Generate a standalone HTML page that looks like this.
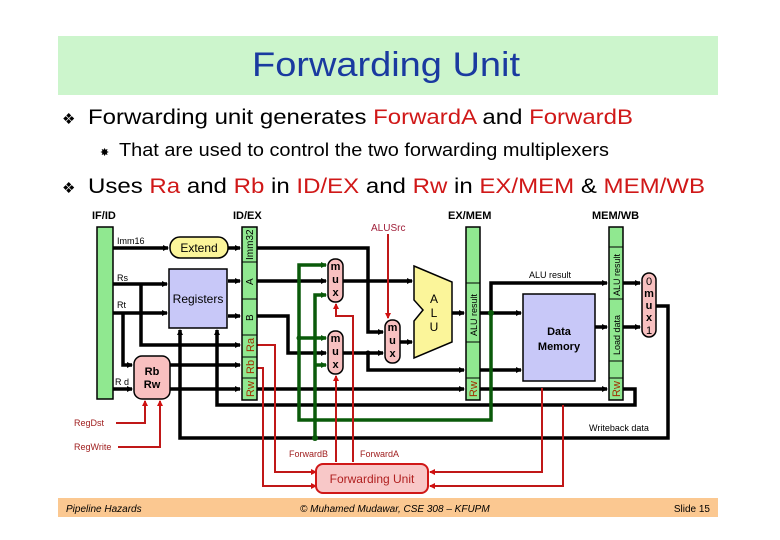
<!DOCTYPE html>
<html><head><meta charset="utf-8"><style>
body{margin:0;background:#fff;}
svg{display:block;}
text{font-family:"Liberation Sans",sans-serif;}
</style></head><body>
<svg width="780" height="540" viewBox="0 0 780 540" xmlns="http://www.w3.org/2000/svg">
<defs>
<marker id="ab" markerWidth="6" markerHeight="6" refX="5" refY="3" orient="auto" markerUnits="userSpaceOnUse"><path d="M0,0 L6,3 L0,6z" fill="#000"/></marker>
<marker id="ag" markerWidth="6" markerHeight="6" refX="5" refY="3" orient="auto" markerUnits="userSpaceOnUse"><path d="M0,0 L6,3 L0,6z" fill="#0a5a0a"/></marker>
<marker id="ar" markerWidth="6" markerHeight="6" refX="5" refY="3" orient="auto" markerUnits="userSpaceOnUse"><path d="M0,0 L6,3 L0,6z" fill="#d01010"/></marker>
</defs>
<rect x="58" y="36" width="660" height="59" fill="#ccf5cc"/>
<text x="252" y="76" font-size="34" fill="#1a3aa0" textLength="268" lengthAdjust="spacingAndGlyphs" font-family="'DejaVu Sans',sans-serif">Forwarding Unit</text>
<text x="62" y="124" font-size="15">❖</text>
<text x="88" y="124" font-size="21" textLength="545" lengthAdjust="spacingAndGlyphs">Forwarding unit generates <tspan fill="#d01818">ForwardA</tspan> and <tspan fill="#d01818">ForwardB</tspan></text>
<text x="100" y="156" font-size="11">✸</text>
<text x="119" y="156" font-size="18" textLength="490" lengthAdjust="spacingAndGlyphs">That are used to control the two forwarding multiplexers</text>
<text x="62" y="193" font-size="15">❖</text>
<text x="88" y="193" font-size="21" textLength="617" lengthAdjust="spacingAndGlyphs">Uses <tspan fill="#d01818">Ra</tspan> and <tspan fill="#d01818">Rb</tspan> in <tspan fill="#d01818">ID/EX</tspan> and <tspan fill="#d01818">Rw</tspan> in <tspan fill="#d01818">EX/MEM</tspan> &amp; <tspan fill="#d01818">MEM/WB</tspan></text>

<g font-size="11" font-weight="bold">
<text x="92" y="219">IF/ID</text><text x="233" y="219">ID/EX</text>
<text x="448" y="219">EX/MEM</text><text x="592" y="219">MEM/WB</text>
</g>
<text x="371" y="231" font-size="10" fill="#a0203a">ALUSrc</text>

<g stroke="#000" stroke-width="3.5" fill="none">
<path d="M113 248 H168" marker-end="url(#ab)"/>
<path d="M228 248 H240" marker-end="url(#ab)"/>
<path d="M113 284 H167" marker-end="url(#ab)"/>
<path d="M113 313 H167" marker-end="url(#ab)"/>
<path d="M141 284 V345 H240" marker-end="url(#ab)"/>
<path d="M123 313 V365 H132" marker-end="url(#ab)"/>
<path d="M113 389 H132" marker-end="url(#ab)"/>
<path d="M170 365 H240" marker-end="url(#ab)"/>
<path d="M170 389 H240" marker-end="url(#ab)"/>
<path d="M228 281 H240" marker-end="url(#ab)"/>
<path d="M228 316 H240" marker-end="url(#ab)"/>
<path d="M257 248 H368 V332 H383" marker-end="url(#ab)"/>
<path d="M257 281 H326" marker-end="url(#ab)"/>
<path d="M343 281 H412" marker-end="url(#ab)"/>
<path d="M257 316 H288 V353 H326" marker-end="url(#ab)"/>
<path d="M343 353 H383" marker-end="url(#ab)"/>
<path d="M368 353 V370 H464" marker-end="url(#ab)"/>
<path d="M400 342 H412" marker-end="url(#ab)"/>
<path d="M452 313 H464" marker-end="url(#ab)"/>
<path d="M257 389 H464" marker-end="url(#ab)"/>
<path d="M480 389 H607" marker-end="url(#ab)"/>
<path d="M480 313 H521" marker-end="url(#ab)"/>
<path d="M491 313 V283 H607" marker-end="url(#ab)"/>
<path d="M480 370 H521" marker-end="url(#ab)"/>
<path d="M595 327 H607" marker-end="url(#ab)"/>
<path d="M623 283 H640" marker-end="url(#ab)"/>
<path d="M623 327 H640" marker-end="url(#ab)"/>
<path d="M656 306 H668 V438 H180 V330" marker-end="url(#ab)"/>
<path d="M623 389 H635 V405 H217 V330" marker-end="url(#ab)"/>
</g>
<g stroke="#0a5a0a" stroke-width="3.5" fill="none">
<path d="M491 313 V420 H299 V265 H326" marker-end="url(#ag)"/>
<path d="M299 338 H326" marker-end="url(#ag)"/>
<path d="M315 438 V295 H326" marker-end="url(#ag)"/>
<path d="M315 365 H326" marker-end="url(#ag)"/>
</g>
<circle cx="491" cy="313" r="3" fill="#0a5a0a"/><circle cx="315" cy="438" r="3" fill="#0a5a0a"/>
<circle cx="299" cy="338" r="2.5" fill="#0a5a0a"/><circle cx="368" cy="353" r="2.5" fill="#000"/>
<g stroke="#c01818" stroke-width="2" fill="none">
<path d="M388 234 V318" marker-end="url(#ar)"/>
<path d="M116 423 H145 V401" marker-end="url(#ar)"/>
<path d="M118 447 H160 V401" marker-end="url(#ar)"/>
<path d="M257 345 H275 V472 H316" marker-end="url(#ar)"/>
<path d="M257 368 H263 V486 H316" marker-end="url(#ar)"/>
<path d="M542 388 V472 H430" marker-end="url(#ar)"/>
<path d="M563 405 V486 H430" marker-end="url(#ar)"/>
<path d="M336 462 V376" marker-end="url(#ar)"/>
<path d="M353 462 V316 H336 V304" marker-end="url(#ar)"/>
</g>
<rect x="97" y="227" width="16" height="172" fill="#90e890" stroke="#000" stroke-width="1.5"/>
<rect x="242" y="227" width="15" height="173" fill="#90e890" stroke="#000" stroke-width="1.5"/>
<g stroke="#000" stroke-width="1"><line x1="242" y1="262" x2="257" y2="262"/><line x1="242" y1="299" x2="257" y2="299"/><line x1="242" y1="335" x2="257" y2="335"/><line x1="242" y1="357" x2="257" y2="357"/><line x1="242" y1="378" x2="257" y2="378"/></g>
<rect x="466" y="227" width="14" height="173" fill="#90e890" stroke="#000" stroke-width="1.5"/>
<g stroke="#000" stroke-width="1"><line x1="466" y1="283" x2="480" y2="283"/><line x1="466" y1="342" x2="480" y2="342"/><line x1="466" y1="378" x2="480" y2="378"/></g>
<rect x="609" y="227" width="14" height="173" fill="#90e890" stroke="#000" stroke-width="1.5"/>
<g stroke="#000" stroke-width="1"><line x1="609" y1="247" x2="623" y2="247"/><line x1="609" y1="299" x2="623" y2="299"/><line x1="609" y1="361" x2="623" y2="361"/><line x1="609" y1="378" x2="623" y2="378"/></g>
<g font-size="10">
<text transform="translate(253,260) rotate(-90)">Imm32</text>
<text transform="translate(253,285) rotate(-90)">A</text>
<text transform="translate(253,321) rotate(-90)">B</text>
<text transform="translate(254,352) rotate(-90)" font-size="11" fill="#a03000">Ra</text>
<text transform="translate(254,374) rotate(-90)" font-size="11" fill="#a03000">Rb</text>
<text transform="translate(254,397) rotate(-90)" font-size="11" fill="#a03000">Rw</text>
<text transform="translate(477,336) rotate(-90)" font-size="9">ALU result</text>
<text transform="translate(477,397) rotate(-90)" font-size="11" fill="#a03000">Rw</text>
<text transform="translate(620,296) rotate(-90)" font-size="9">ALU result</text>
<text transform="translate(620,355) rotate(-90)" font-size="9">Load data</text>
<text transform="translate(620,397) rotate(-90)" font-size="11" fill="#a03000">Rw</text>
</g>
<g font-size="9">
<text x="117" y="244">Imm16</text><text x="117" y="281">Rs</text><text x="117" y="308">Rt</text><text x="115" y="385">R d</text>
<text x="529" y="278">ALU result</text><text x="527" y="317">Address</text><text x="526" y="371">Data_in</text>
<text x="589" y="431">Writeback data</text>
<text x="74" y="426" fill="#a02020">RegDst</text><text x="74" y="450" fill="#a02020">RegWrite</text>
<text x="289" y="457" fill="#a02020">ForwardB</text><text x="360" y="457" fill="#a02020">ForwardA</text>
</g>
<rect x="170" y="237" width="58" height="21" rx="10" fill="#fbf59a" stroke="#000" stroke-width="1.5"/>
<text x="199" y="252" font-size="12" text-anchor="middle">Extend</text>
<rect x="169" y="269" width="58" height="59" fill="#c8c8f8" stroke="#000" stroke-width="1.5"/>
<text x="198" y="303" font-size="12" text-anchor="middle">Registers</text>
<rect x="134" y="356" width="36" height="43" rx="8" fill="#f8c0c0" stroke="#000" stroke-width="1.5"/>
<text x="152" y="375" font-size="11" font-weight="bold" text-anchor="middle" font-family="'Liberation Serif',serif">Rb</text>
<text x="152" y="388" font-size="11" font-weight="bold" text-anchor="middle" font-family="'Liberation Serif',serif">Rw</text>
<g fill="#f8c0c0" stroke="#000" stroke-width="1.5">
<rect x="328" y="259" width="15" height="43" rx="7"/>
<rect x="328" y="331" width="15" height="43" rx="7"/>
<rect x="385" y="320" width="15" height="43" rx="7"/>
<rect x="642" y="273" width="14" height="64" rx="7"/>
</g>
<g font-size="11" font-weight="bold" text-anchor="middle" font-family="'Liberation Serif',serif">
<text x="335.5" y="270">m</text><text x="335.5" y="283">u</text><text x="335.5" y="296">x</text>
<text x="335.5" y="342">m</text><text x="335.5" y="355">u</text><text x="335.5" y="368">x</text>
<text x="392.5" y="331">m</text><text x="392.5" y="344">u</text><text x="392.5" y="357">x</text>
<text x="649" y="285" font-weight="normal" font-family="'Liberation Sans',sans-serif">0</text><text x="649" y="297">m</text><text x="649" y="309">u</text><text x="649" y="321">x</text><text x="649" y="334" font-weight="normal" font-family="'Liberation Sans',sans-serif">1</text>
</g>
<path d="M414 266 L452 282 L452 342 L414 358 L414 321 L423 310 L414 300 Z" fill="#fbf59a" stroke="#000" stroke-width="1.5"/>
<g font-size="12" text-anchor="middle"><text x="434" y="303">A</text><text x="434" y="317">L</text><text x="434" y="331">U</text></g>
<rect x="523" y="294" width="72" height="87" fill="#c8c8f8" stroke="#000" stroke-width="1.5"/>
<text x="559" y="335" font-size="11" font-weight="bold" text-anchor="middle">Data</text>
<text x="559" y="350" font-size="11" font-weight="bold" text-anchor="middle">Memory</text>
<rect x="316" y="464" width="112" height="29" rx="7" fill="#f8c8c8" stroke="#d01818" stroke-width="2"/>
<text x="372" y="483" font-size="12" text-anchor="middle" fill="#b02020">Forwarding Unit</text>
<rect x="58" y="498" width="660" height="19" fill="#fbc891"/>
<text x="66" y="512" font-size="10" font-style="italic" font-family="'Liberation Serif',serif">Pipeline Hazards</text>
<text x="300" y="512" font-size="10" font-style="italic" font-family="'Liberation Serif',serif">© Muhamed Mudawar, CSE 308 – KFUPM</text>
<text x="710" y="512" font-size="10" text-anchor="end">Slide 15</text>
</svg>
</body></html>
